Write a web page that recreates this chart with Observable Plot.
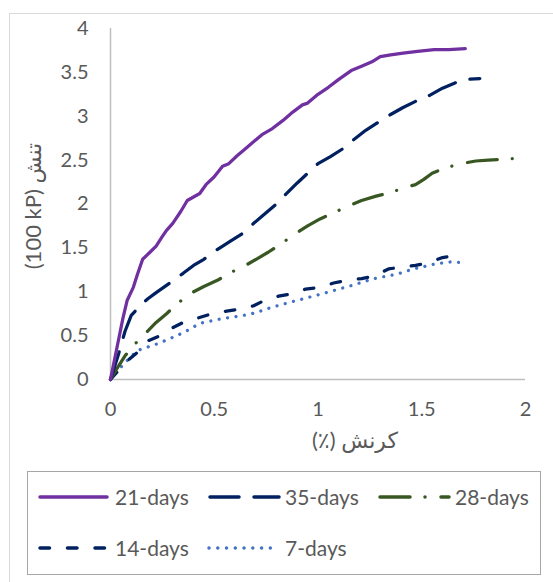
<!DOCTYPE html>
<html><head><meta charset="utf-8">
<script src="https://cdn.jsdelivr.net/npm/d3@7"></script>
<script src="https://cdn.jsdelivr.net/npm/@observablehq/plot@0.6"></script>
<style>
body{margin:0;background:#fff}
#wrap{position:relative;width:553px;height:582px;overflow:hidden;font-family:Lato,'DejaVu Sans',sans-serif;color:#595959;background:#fff}
#frame{position:absolute;left:9px;top:13px;width:600px;height:700px;border:1.5px solid #d9d9d9}
#chart{position:absolute;left:0;top:0}
#legend{position:absolute;left:27px;top:471px;width:514px;height:104px;border:1.5px solid #a6a6a6;box-sizing:border-box}
.sw{position:absolute}
.lt{position:absolute;font-size:21px;line-height:26px;white-space:nowrap}
</style></head>
<body>
<div id="wrap"><div id="frame"></div><div id="chart"></div><div id="legend"></div></div>
<script>
// strain (%) , stress (100 kPa)
const days21 = [[0,0],[0.03,0.35],[0.06,0.7],[0.08,0.9],[0.11,1.05],[0.13,1.2],[0.155,1.37],[0.19,1.45],[0.22,1.52],[0.25,1.63],[0.27,1.70],[0.30,1.78],[0.34,1.92],[0.37,2.04],[0.40,2.08],[0.43,2.12],[0.46,2.22],[0.50,2.31],[0.54,2.43],[0.57,2.46],[0.61,2.55],[0.66,2.65],[0.73,2.79],[0.78,2.86],[0.83,2.95],[0.88,3.05],[0.925,3.13],[0.95,3.15],[1.0,3.25],[1.05,3.33],[1.10,3.42],[1.16,3.52],[1.21,3.57],[1.26,3.62],[1.30,3.68],[1.35,3.70],[1.41,3.72],[1.48,3.74],[1.56,3.76],[1.63,3.76],[1.71,3.77]];
const days35 = [[0,0],[0.04,0.3],[0.07,0.55],[0.1,0.73],[0.15,0.86],[0.18,0.92],[0.22,0.99],[0.28,1.09],[0.35,1.21],[0.40,1.30],[0.45,1.37],[0.52,1.49],[0.58,1.58],[0.64,1.67],[0.69,1.78],[0.74,1.88],[0.80,2.0],[0.84,2.10],[0.90,2.24],[0.95,2.35],[1.0,2.46],[1.06,2.54],[1.12,2.63],[1.17,2.73],[1.23,2.84],[1.29,2.93],[1.35,3.02],[1.41,3.10],[1.47,3.17],[1.54,3.24],[1.60,3.32],[1.66,3.38],[1.72,3.42],[1.78,3.43]];
const days28 = [[0,0],[0.03,0.12],[0.07,0.27],[0.12,0.41],[0.17,0.53],[0.22,0.65],[0.27,0.75],[0.32,0.86],[0.385,0.98],[0.45,1.06],[0.515,1.13],[0.58,1.22],[0.65,1.30],[0.71,1.38],[0.76,1.45],[0.83,1.56],[0.89,1.66],[0.95,1.75],[1.01,1.83],[1.075,1.90],[1.15,1.98],[1.21,2.04],[1.28,2.09],[1.35,2.13],[1.42,2.19],[1.47,2.22],[1.51,2.28],[1.55,2.35],[1.61,2.41],[1.69,2.46],[1.76,2.49],[1.82,2.50],[1.89,2.51],[1.96,2.52],[2.01,2.53]];
const days14 = [[0,0],[0.03,0.08],[0.07,0.19],[0.13,0.31],[0.18,0.44],[0.24,0.50],[0.30,0.59],[0.35,0.65],[0.42,0.70],[0.49,0.75],[0.56,0.78],[0.62,0.80],[0.69,0.84],[0.74,0.90],[0.81,0.95],[0.88,0.98],[0.94,1.03],[1.01,1.05],[1.075,1.10],[1.14,1.13],[1.21,1.15],[1.27,1.18],[1.34,1.26],[1.40,1.28],[1.47,1.30],[1.53,1.33],[1.60,1.39],[1.66,1.41]];
const days7 = [[0,0],[0.02,0.07],[0.05,0.14],[0.09,0.24],[0.13,0.33],[0.18,0.37],[0.23,0.41],[0.32,0.50],[0.38,0.57],[0.43,0.64],[0.53,0.69],[0.64,0.73],[0.70,0.76],[0.76,0.81],[0.85,0.87],[0.93,0.92],[1.04,0.99],[1.16,1.07],[1.27,1.15],[1.38,1.20],[1.46,1.26],[1.57,1.32],[1.64,1.34],[1.70,1.33]];

const seriesNames = ["21-days","35-days","28-days","14-days","7-days"];
const seriesData = [days21, days35, days28, days14, days7];
const seriesColors = ["#7030A0","#002060","#385723","#002060","#4472C4"];
const seriesDash = [null,"29,15","30,15,0.01,16","9.5,18","0.01,8.5"];
const xTicks = [0,0.5,1,1.5,2];
const yTicks = [0,0.5,1,1.5,2,2.5,3,3.5,4];
const xTitle = "(٪) کرنش";
const yTitle = "(100 kP) تنش";

const lineMarks = [];
for (let i = seriesData.length - 1; i >= 0; i--) {
  lineMarks.push(Plot.line(seriesData[i], {
    x: d => d[0], y: d => d[1], stroke: seriesColors[i], strokeWidth: 3.25,
    strokeDasharray: seriesDash[i] || undefined, strokeLinecap: "round", strokeLinejoin: "round"
  }));
}

const chart = Plot.plot({
  width: 553, height: 460,
  marginLeft: 110, marginRight: 28, marginTop: 28, marginBottom: 81,
  style: {fontFamily: "Lato, 'DejaVu Sans', sans-serif", fontSize: "20px", color: "#595959", background: "transparent"},
  x: {domain: [0, 2], ticks: xTicks, tickFormat: d => String(d), tickSize: 0, tickPadding: 22, label: null},
  y: {domain: [0, 4], ticks: yTicks, tickFormat: d => String(d), tickSize: 0, tickPadding: 22, label: null},
  marks: [
    Plot.ruleX([0], {stroke: "#bfbfbf", strokeWidth: 1.5}),
    Plot.ruleY([0], {stroke: "#bfbfbf", strokeWidth: 1.5}),
    ...lineMarks,
    Plot.text([yTitle], {frameAnchor: "left", dx: -77, dy: 2, rotate: -90, text: d => d, fill: "#595959", fontSize: 22, textAnchor: "middle", lineAnchor: "middle"}),
    Plot.text([xTitle], {frameAnchor: "bottom", dx: 37, dy: 61, text: d => d, fill: "#595959", fontSize: 22, textAnchor: "middle", lineAnchor: "middle"})
  ]
});
document.getElementById("chart").appendChild(chart);

// legend
const legendPos = [
  {x0: 39.5, x1: 106.5, tx: 115, y: 497},
  {x0: 209.5, x1: 278.5, tx: 285, y: 497},
  {x0: 379.5, x1: 448.5, tx: 455, y: 497},
  {x0: 39.5, x1: 106.5, tx: 115, y: 548},
  {x0: 209, x1: 279, tx: 285, y: 548}
];
const wrap = document.getElementById("wrap");
const ns = "http://www.w3.org/2000/svg";
seriesNames.forEach((name, i) => {
  const p = legendPos[i];
  const svg = document.createElementNS(ns, "svg");
  svg.setAttribute("class", "sw");
  svg.setAttribute("width", 90); svg.setAttribute("height", 20);
  svg.style.left = (p.x0 - 5) + "px"; svg.style.top = (p.y - 10) + "px";
  const ln = document.createElementNS(ns, "line");
  ln.setAttribute("x1", 5); ln.setAttribute("x2", 5 + p.x1 - p.x0);
  ln.setAttribute("y1", 10); ln.setAttribute("y2", 10);
  ln.setAttribute("stroke", seriesColors[i]); ln.setAttribute("stroke-width", 3.5);
  ln.setAttribute("stroke-linecap", "round");
  if (seriesDash[i]) ln.setAttribute("stroke-dasharray", i === 4 ? "0.01,8.75" : seriesDash[i]);
  svg.appendChild(ln);
  wrap.appendChild(svg);
  const t = document.createElement("div");
  t.className = "lt"; t.textContent = name;
  t.style.left = p.tx + "px"; t.style.top = (p.y - 13) + "px";
  wrap.appendChild(t);
});
</script>
</body></html>
